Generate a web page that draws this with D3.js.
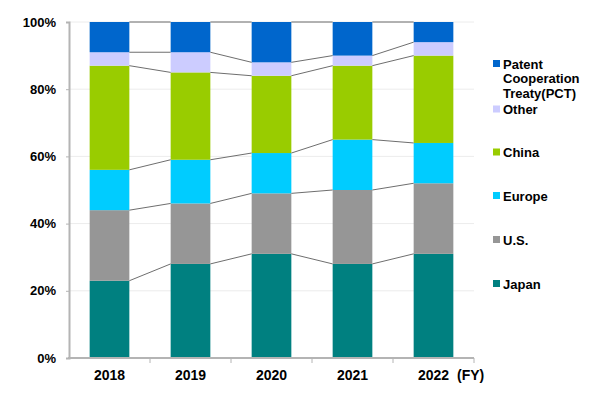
<!DOCTYPE html>
<html><head><meta charset="utf-8">
<script src="https://cdn.jsdelivr.net/npm/d3@7"></script>
<style>body{margin:0;background:#fff}svg{display:block}text{font-family:"Liberation Sans",Arial,sans-serif;font-weight:bold;fill:#000}</style>
</head><body>
<script>
const years = ["2018","2019","2020","2021","2022"];
const seriesNames = ["Japan","U.S.","Europe","China","Other","Patent Cooperation Treaty(PCT)"];
const japan = [23,28,31,28,31];
const us = [21,18,18,22,21];
const europe = [12,13,12,15,12];
const china = [31,26,23,22,26];
const other = [4,6,4,3,4];
const pct = [9,9,12,10,6];
const yTicks = [0,20,40,60,80,100];
const colors = ["#008080","#969696","#00CCFF","#99CC00","#CCCCFF","#0066CC"];

const values = [japan,us,europe,china,other,pct];
const rows = years.map((y,i)=>{const r={year:y};seriesNames.forEach((s,k)=>r[s]=values[k][i]);return r;});
const stack = d3.stack().keys(seriesNames)(rows);

const W=600,H=399;
const svg=d3.select("body").append("svg").attr("width",W).attr("height",H);
const x=d3.scaleBand().domain(years).range([69,474]).padding(0);
const y=d3.scaleLinear().domain([0,100]).range([358,22]);
const barW=x.bandwidth()*0.49;
const bx=d=>x(d)+(x.bandwidth()-barW)/2;

// gridlines
svg.append("g").selectAll("line").data(yTicks.filter(t=>t>0)).join("line")
 .attr("x1",69).attr("x2",474).attr("y1",d=>y(d)).attr("y2",d=>y(d))
 .attr("stroke","#ececec").attr("stroke-width",1);

// bars
svg.append("g").selectAll("g").data(stack).join("g").attr("fill",(d,i)=>colors[i])
 .selectAll("rect").data(d=>d).join("rect")
 .attr("x",d=>bx(d.data.year)).attr("width",barW)
 .attr("y",d=>y(d[1])).attr("height",d=>y(d[0])-y(d[1]));

// connectors
const conn=[];
stack.forEach(layer=>{for(let i=0;i<layer.length-1;i++){conn.push({x1:bx(years[i])+barW,y1:y(layer[i][1]),x2:bx(years[i+1]),y2:y(layer[i+1][1])});}});
svg.append("g").selectAll("line").data(conn).join("line")
 .attr("x1",d=>d.x1).attr("y1",d=>d.y1).attr("x2",d=>d.x2).attr("y2",d=>d.y2)
 .attr("stroke","#6e6e6e").attr("stroke-width",1);

// y axis
const ya=svg.append("g").attr("transform","translate(69,0)")
 .call(d3.axisLeft(y).tickValues(yTicks).tickFormat(d=>d+"%").tickSize(3).tickPadding(10));
ya.select(".domain").attr("stroke","#b4b4b4").attr("stroke-width",2);
ya.selectAll(".tick line").attr("stroke","#b4b4b4");
ya.selectAll("text").attr("font-size",13).style("font-family","'Liberation Sans',Arial,sans-serif").style("font-weight","bold");

// x axis
const xa=svg.append("g").attr("transform","translate(0,358)")
 .call(d3.axisBottom(x).tickSize(0).tickPadding(12));
xa.select(".domain").attr("stroke","#b4b4b4").attr("stroke-width",2).attr("d","M68,0H474");
xa.selectAll("text").attr("font-size",14).style("font-family","'Liberation Sans',Arial,sans-serif").style("font-weight","bold");
svg.append("g").selectAll("line").data(years.slice(1).concat(["end"])).join("line")
 .attr("x1",d=>d==="end"?474:x(d)).attr("x2",d=>d==="end"?474:x(d))
 .attr("y1",358).attr("y2",363).attr("stroke","#b4b4b4");
svg.append("text").attr("x",457).attr("y",380).attr("font-size",14).text("(FY)");

// legend
const legendY=[284,240,196,152.5,109.5,64];
const lg=svg.append("g");
seriesNames.forEach((s,i)=>{
  const g=lg.append("g").attr("transform",`translate(493,${legendY[i]})`);
  g.append("rect").attr("x",0).attr("y",-4).attr("width",7).attr("height",7).attr("fill",colors[i]);
  const lines = s==="Patent Cooperation Treaty(PCT)"?["Patent","Cooperation","Treaty(PCT)"]:[s];
  const t=g.append("text").attr("x",10).attr("y",0).attr("font-size",13);
  lines.forEach((l,j)=>t.append("tspan").attr("x",10).attr("dy",j===0?"0.35em":"14.8").text(l));
});
</script>
</body></html>
